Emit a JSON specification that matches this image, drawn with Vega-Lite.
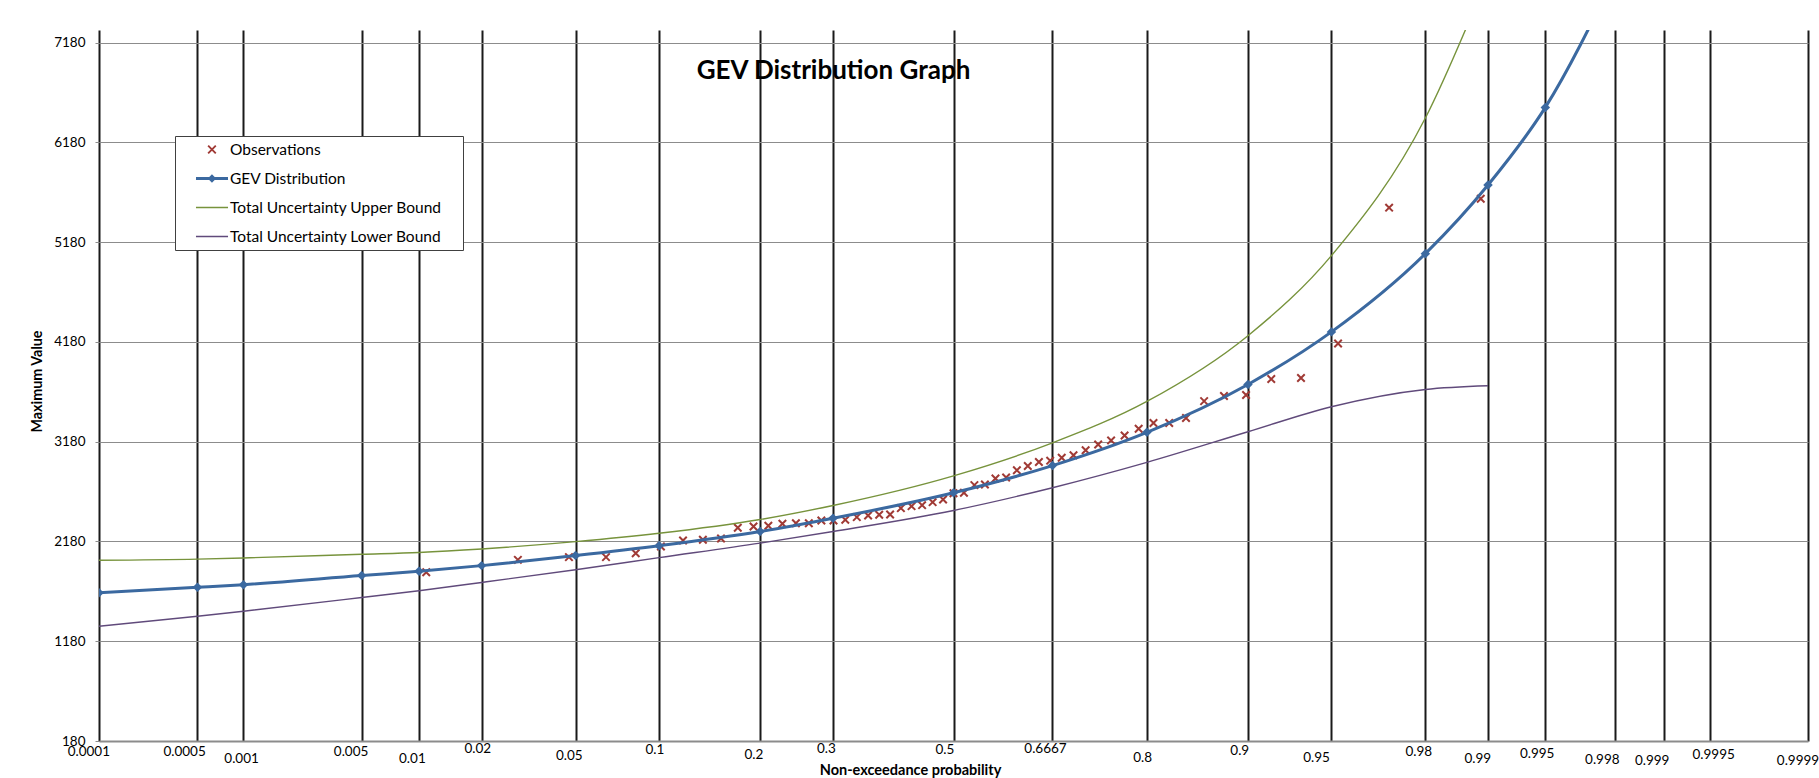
{
  "$schema": "https://vega.github.io/schema/vega-lite/v6.json",
  "width": 1709,
  "height": 711,
  "autosize": {"type": "none"},
  "padding": {"left": 99, "top": 30, "right": 11, "bottom": 37},
  "background": "white",
  "config": {
    "view": {"stroke": null},
    "font": "Lato",
    "axis": {"titleFont": "Lato", "titleFontWeight": "bold", "titleColor": "black", "labelFont": "Lato", "labelColor": "black"},
    "axisX": {"titleFontSize": 14.5},
    "axisY": {"titleFontSize": 14.3}
  },
  "title": {
    "text": "GEV Distribution Graph",
    "font": "Lato",
    "fontSize": 26,
    "fontWeight": "bold",
    "color": "black",
    "anchor": "middle",
    "frame": "group",
    "dx": -120,
    "dy": 58
  },
  "datasets": {
    "curves": [
      {"series": "GEV Distribution", "p": 0.0001, "z": -3.719016, "value": 1665},
      {"series": "GEV Distribution", "p": 0.0005, "z": -3.290527, "value": 1720},
      {"series": "GEV Distribution", "p": 0.001, "z": -3.090232, "value": 1747},
      {"series": "GEV Distribution", "p": 0.005, "z": -2.575829, "value": 1838},
      {"series": "GEV Distribution", "p": 0.01, "z": -2.326348, "value": 1881},
      {"series": "GEV Distribution", "p": 0.02, "z": -2.053749, "value": 1938},
      {"series": "GEV Distribution", "p": 0.05, "z": -1.644854, "value": 2039},
      {"series": "GEV Distribution", "p": 0.1, "z": -1.281552, "value": 2138},
      {"series": "GEV Distribution", "p": 0.2, "z": -0.841621, "value": 2280},
      {"series": "GEV Distribution", "p": 0.3, "z": -0.524401, "value": 2413},
      {"series": "GEV Distribution", "p": 0.5, "z": 0, "value": 2668},
      {"series": "GEV Distribution", "p": 0.6667, "z": 0.43082, "value": 2941},
      {"series": "GEV Distribution", "p": 0.8, "z": 0.841621, "value": 3274},
      {"series": "GEV Distribution", "p": 0.9, "z": 1.281552, "value": 3754},
      {"series": "GEV Distribution", "p": 0.95, "z": 1.644854, "value": 4281},
      {"series": "GEV Distribution", "p": 0.98, "z": 2.053749, "value": 5065},
      {"series": "GEV Distribution", "p": 0.99, "z": 2.326348, "value": 5753},
      {"series": "GEV Distribution", "p": 0.995, "z": 2.575829, "value": 6531},
      {"series": "GEV Distribution", "p": 0.998, "z": 2.878162, "value": 7850},
      {"series": "Total Uncertainty Upper Bound", "p": 0.0001, "z": -3.719016, "value": 1992},
      {"series": "Total Uncertainty Upper Bound", "p": 0.0005, "z": -3.290527, "value": 2003},
      {"series": "Total Uncertainty Upper Bound", "p": 0.001, "z": -3.090232, "value": 2015},
      {"series": "Total Uncertainty Upper Bound", "p": 0.005, "z": -2.575829, "value": 2052},
      {"series": "Total Uncertainty Upper Bound", "p": 0.01, "z": -2.326348, "value": 2070},
      {"series": "Total Uncertainty Upper Bound", "p": 0.02, "z": -2.053749, "value": 2105},
      {"series": "Total Uncertainty Upper Bound", "p": 0.05, "z": -1.644854, "value": 2178},
      {"series": "Total Uncertainty Upper Bound", "p": 0.1, "z": -1.281552, "value": 2262},
      {"series": "Total Uncertainty Upper Bound", "p": 0.2, "z": -0.841621, "value": 2400},
      {"series": "Total Uncertainty Upper Bound", "p": 0.3, "z": -0.524401, "value": 2541},
      {"series": "Total Uncertainty Upper Bound", "p": 0.5, "z": 0, "value": 2838},
      {"series": "Total Uncertainty Upper Bound", "p": 0.6667, "z": 0.43082, "value": 3169},
      {"series": "Total Uncertainty Upper Bound", "p": 0.8, "z": 0.841621, "value": 3584},
      {"series": "Total Uncertainty Upper Bound", "p": 0.9, "z": 1.281552, "value": 4243},
      {"series": "Total Uncertainty Upper Bound", "p": 0.95, "z": 1.644854, "value": 5045},
      {"series": "Total Uncertainty Upper Bound", "p": 0.98, "z": 2.053749, "value": 6425},
      {"series": "Total Uncertainty Upper Bound", "p": 0.99, "z": 2.326348, "value": 7850},
      {"series": "Total Uncertainty Lower Bound", "p": 0.0001, "z": -3.719016, "value": 1330},
      {"series": "Total Uncertainty Lower Bound", "p": 0.0005, "z": -3.290527, "value": 1431},
      {"series": "Total Uncertainty Lower Bound", "p": 0.001, "z": -3.090232, "value": 1481},
      {"series": "Total Uncertainty Lower Bound", "p": 0.005, "z": -2.575829, "value": 1618},
      {"series": "Total Uncertainty Lower Bound", "p": 0.01, "z": -2.326348, "value": 1686},
      {"series": "Total Uncertainty Lower Bound", "p": 0.02, "z": -2.053749, "value": 1769},
      {"series": "Total Uncertainty Lower Bound", "p": 0.05, "z": -1.644854, "value": 1897},
      {"series": "Total Uncertainty Lower Bound", "p": 0.1, "z": -1.281552, "value": 2018},
      {"series": "Total Uncertainty Lower Bound", "p": 0.2, "z": -0.841621, "value": 2163},
      {"series": "Total Uncertainty Lower Bound", "p": 0.3, "z": -0.524401, "value": 2280},
      {"series": "Total Uncertainty Lower Bound", "p": 0.5, "z": 0, "value": 2491},
      {"series": "Total Uncertainty Lower Bound", "p": 0.6667, "z": 0.43082, "value": 2719},
      {"series": "Total Uncertainty Lower Bound", "p": 0.8, "z": 0.841621, "value": 2973},
      {"series": "Total Uncertainty Lower Bound", "p": 0.9, "z": 1.281552, "value": 3280},
      {"series": "Total Uncertainty Lower Bound", "p": 0.95, "z": 1.644854, "value": 3531},
      {"series": "Total Uncertainty Lower Bound", "p": 0.98, "z": 2.053749, "value": 3704},
      {"series": "Total Uncertainty Lower Bound", "p": 0.99, "z": 2.326348, "value": 3741}
    ],
    "obs": [
      {"series": "Observations", "p": 0.0109, "z": -2.2948, "value": 1871},
      {"series": "Observations", "p": 0.0290, "z": -1.8959, "value": 1996},
      {"series": "Observations", "p": 0.0471, "z": -1.6737, "value": 2023},
      {"series": "Observations", "p": 0.0652, "z": -1.5124, "value": 2023},
      {"series": "Observations", "p": 0.0833, "z": -1.3830, "value": 2062},
      {"series": "Observations", "p": 0.1014, "z": -1.2733, "value": 2130},
      {"series": "Observations", "p": 0.1196, "z": -1.1772, "value": 2190},
      {"series": "Observations", "p": 0.1377, "z": -1.0908, "value": 2197},
      {"series": "Observations", "p": 0.1558, "z": -1.0119, "value": 2210},
      {"series": "Observations", "p": 0.1739, "z": -0.9388, "value": 2317},
      {"series": "Observations", "p": 0.1920, "z": -0.8704, "value": 2330},
      {"series": "Observations", "p": 0.2101, "z": -0.8059, "value": 2337},
      {"series": "Observations", "p": 0.2283, "z": -0.7446, "value": 2357},
      {"series": "Observations", "p": 0.2464, "z": -0.6859, "value": 2363},
      {"series": "Observations", "p": 0.2645, "z": -0.6296, "value": 2363},
      {"series": "Observations", "p": 0.2826, "z": -0.5751, "value": 2390},
      {"series": "Observations", "p": 0.3007, "z": -0.5223, "value": 2390},
      {"series": "Observations", "p": 0.3188, "z": -0.4710, "value": 2397},
      {"series": "Observations", "p": 0.3370, "z": -0.4208, "value": 2424},
      {"series": "Observations", "p": 0.3551, "z": -0.3717, "value": 2440},
      {"series": "Observations", "p": 0.3732, "z": -0.3234, "value": 2448},
      {"series": "Observations", "p": 0.3913, "z": -0.2759, "value": 2450},
      {"series": "Observations", "p": 0.4094, "z": -0.2290, "value": 2514},
      {"series": "Observations", "p": 0.4275, "z": -0.1826, "value": 2534},
      {"series": "Observations", "p": 0.4457, "z": -0.1367, "value": 2544},
      {"series": "Observations", "p": 0.4638, "z": -0.0909, "value": 2574},
      {"series": "Observations", "p": 0.4819, "z": -0.0454, "value": 2601},
      {"series": "Observations", "p": 0.5000, "z": 0, "value": 2664},
      {"series": "Observations", "p": 0.5181, "z": 0.0454, "value": 2668},
      {"series": "Observations", "p": 0.5362, "z": 0.0909, "value": 2745},
      {"series": "Observations", "p": 0.5543, "z": 0.1367, "value": 2751},
      {"series": "Observations", "p": 0.5725, "z": 0.1826, "value": 2811},
      {"series": "Observations", "p": 0.5906, "z": 0.2290, "value": 2821},
      {"series": "Observations", "p": 0.6087, "z": 0.2759, "value": 2894},
      {"series": "Observations", "p": 0.6268, "z": 0.3234, "value": 2937},
      {"series": "Observations", "p": 0.6449, "z": 0.3717, "value": 2977},
      {"series": "Observations", "p": 0.6630, "z": 0.4208, "value": 2990},
      {"series": "Observations", "p": 0.6812, "z": 0.4710, "value": 3020},
      {"series": "Observations", "p": 0.6993, "z": 0.5223, "value": 3045},
      {"series": "Observations", "p": 0.7174, "z": 0.5751, "value": 3095},
      {"series": "Observations", "p": 0.7355, "z": 0.6296, "value": 3152},
      {"series": "Observations", "p": 0.7536, "z": 0.6859, "value": 3193},
      {"series": "Observations", "p": 0.7717, "z": 0.7446, "value": 3243},
      {"series": "Observations", "p": 0.7899, "z": 0.8059, "value": 3310},
      {"series": "Observations", "p": 0.8080, "z": 0.8704, "value": 3367},
      {"series": "Observations", "p": 0.8261, "z": 0.9388, "value": 3367},
      {"series": "Observations", "p": 0.8442, "z": 1.0119, "value": 3417},
      {"series": "Observations", "p": 0.8623, "z": 1.0908, "value": 3587},
      {"series": "Observations", "p": 0.8804, "z": 1.1772, "value": 3638},
      {"series": "Observations", "p": 0.8986, "z": 1.2733, "value": 3648},
      {"series": "Observations", "p": 0.9167, "z": 1.3830, "value": 3808},
      {"series": "Observations", "p": 0.9348, "z": 1.5124, "value": 3818},
      {"series": "Observations", "p": 0.9529, "z": 1.6737, "value": 4165},
      {"series": "Observations", "p": 0.9710, "z": 1.8959, "value": 5526},
      {"series": "Observations", "p": 0.9891, "z": 2.2948, "value": 5616}
    ]
  },
  "encoding": {
    "x": {
      "field": "z",
      "type": "quantitative",
      "scale": {"domain": [-3.719016, 3.719016], "nice": false, "zero": false},
      "axis": {
        "values": [-3.719016, -3.290527, -3.090232, -2.575829, -2.326348, -2.053749, -1.644854, -1.281552, -0.841621, -0.524401, 0, 0.43082, 0.841621, 1.281552, 1.644854, 2.053749, 2.326348, 2.575829, 2.878162, 3.090232, 3.290527, 3.719016],
        "labelExpr": "format(cumulativeNormal(datum.value), '.4~f')",
        "grid": true,
        "gridColor": "#1a1a1a",
        "gridWidth": 2,
        "domain": true,
        "domainColor": "#8c8c8c",
        "domainWidth": 2,
        "ticks": false,
        "tickSize": 0,
        "labelFontSize": 13.5,
        "labelFlush": false,
        "labelOverlap": false,
        "labelBound": false,
        "labelBaseline": "middle",
        "labelPadding": {"expr": "7 + [3.2,3.2,10.3,3.7,10.3,0.3,7,1.5,6,0.3,1.8,0.3,9.3,2.5,9.8,3,10,5.5,11.3,12,6.5,12][indexof(['0.0001','0.0005','0.001','0.005','0.01','0.02','0.05','0.1','0.2','0.3','0.5','0.6667','0.8','0.9','0.95','0.98','0.99','0.995','0.998','0.999','0.9995','0.9999'], format(cumulativeNormal(datum.value), '.4~f'))]"},
        "labelOffset": {"expr": "[-10.7,-13.4,-2.4,-11.1,-7.1,-4.3,-6.7,-4.7,-6.7,-7.1,-9.1,-7.5,-4.7,-8.7,-15.4,-7.1,-10.7,-8.7,-13,-11.9,3.6,-10.5][indexof(['0.0001','0.0005','0.001','0.005','0.01','0.02','0.05','0.1','0.2','0.3','0.5','0.6667','0.8','0.9','0.95','0.98','0.99','0.995','0.998','0.999','0.9995','0.9999'], format(cumulativeNormal(datum.value), '.4~f'))]"},
        "title": "Non-exceedance probability",
        "titleFontSize": 14.5,
        "titleX": 811,
        "titleY": 29,
        "titleAlign": "center",
        "titleBaseline": "middle"
      }
    },
    "y": {
      "field": "value",
      "type": "quantitative",
      "scale": {"domain": [180, 7307], "nice": false, "zero": false},
      "axis": {
        "values": [180, 1180, 2180, 3180, 4180, 5180, 6180, 7180],
        "format": "d",
        "grid": true,
        "gridColor": "#8c8c8c",
        "gridWidth": 1,
        "domain": false,
        "ticks": true,
        "tickSize": 4,
        "tickColor": "#8c8c8c",
        "labelFontSize": 13.5,
        "labelPadding": 10,
        "labelFlush": false,
        "labelOverlap": false,
        "title": "Maximum Value",
        "titleFontSize": 14.3,
        "titleAngle": 270,
        "titleX": -62,
        "titleY": 351,
        "titleAlign": "center",
        "titleBaseline": "middle"
      }
    }
  },
  "layer": [
    {
      "description": "white backing box behind the chart title",
      "mark": {"type": "rect", "color": "white"},
      "encoding": {
        "x": {"datum": -1.147, "type": "quantitative"},
        "x2": {"datum": 0.107},
        "y": {"datum": 7130, "type": "quantitative"},
        "y2": {"datum": 6728}
      }
    },
    {
      "data": {"name": "obs"},
      "mark": {"type": "point", "shape": "M-1,-1L1,1M-1,1L1,-1", "size": 56, "filled": false, "color": "#A03A35", "strokeWidth": 2, "opacity": 1, "clip": true}
    },
    {
      "data": {"name": "curves"},
      "transform": [{"filter": "datum.series === 'GEV Distribution'"}],
      "mark": {"type": "line", "color": "#3B69A0", "strokeWidth": 3, "interpolate": "monotone", "clip": true}
    },
    {
      "data": {"name": "curves"},
      "transform": [{"filter": "datum.series === 'GEV Distribution'"}],
      "mark": {"type": "point", "shape": "diamond", "size": 90, "filled": true, "color": "#3B69A0", "opacity": 1, "clip": true}
    },
    {
      "data": {"name": "curves"},
      "transform": [{"filter": "datum.series === 'Total Uncertainty Upper Bound'"}],
      "mark": {"type": "line", "color": "#77933C", "strokeWidth": 1.4, "interpolate": "monotone", "clip": true}
    },
    {
      "data": {"name": "curves"},
      "transform": [{"filter": "datum.series === 'Total Uncertainty Lower Bound'"}],
      "mark": {"type": "line", "color": "#604A7B", "strokeWidth": 1.4, "interpolate": "monotone", "clip": true}
    },
    {
      "description": "legend key for all four series",
      "data": {"name": "obs"},
      "transform": [{"filter": "false"}],
      "mark": {"type": "point", "filled": true, "opacity": 1},
      "encoding": {
        "x": null,
        "y": null,
        "color": {
          "field": "series",
          "type": "nominal",
          "scale": {
            "domain": ["Observations", "GEV Distribution", "Total Uncertainty Upper Bound", "Total Uncertainty Lower Bound"],
            "range": ["#A03A35", "#3B69A0", "#77933C", "#604A7B"]
          },
          "legend": {
            "orient": "none",
            "legendX": 76,
            "legendY": 106,
            "title": " ",
            "titleOrient": "right",
            "titlePadding": 16,
            "padding": 5,
            "rowPadding": 12,
            "fillColor": "white",
            "strokeColor": "#404040",
            "labelFont": "Lato",
            "labelFontSize": 15.5,
            "labelColor": "black",
            "labelLimit": 400,
            "labelOffset": 33,
            "symbolSize": 289,
            "symbolOpacity": 1,
            "symbolStrokeWidth": 0
          }
        },
        "shape": {
          "field": "series",
          "type": "nominal",
          "scale": {
            "domain": ["Observations", "GEV Distribution", "Total Uncertainty Upper Bound", "Total Uncertainty Lower Bound"],
            "range": [
              "M2.388,-0.528L3.288,0.372L3.132,0.528L2.232,-0.372ZM2.232,0.372L3.132,-0.528L3.288,-0.372L2.388,0.528Z",
              "M0.88,-0.176H4.65V0.176H0.88ZM2.76,-0.5L3.26,0L2.76,0.5L2.26,0Z",
              "M0.88,-0.082H4.65V0.082H0.88Z",
              "M0.88,-0.082H4.65V0.082H0.88Z"
            ]
          },
          "legend": {
            "orient": "none",
            "legendX": 76,
            "legendY": 106,
            "title": " ",
            "titleOrient": "right",
            "titlePadding": 16,
            "padding": 5,
            "rowPadding": 12,
            "fillColor": "white",
            "strokeColor": "#404040",
            "labelFont": "Lato",
            "labelFontSize": 15.5,
            "labelColor": "black",
            "labelLimit": 400,
            "labelOffset": 33,
            "symbolSize": 289,
            "symbolOpacity": 1,
            "symbolStrokeWidth": 0
          }
        }
      }
    }
  ]
}
